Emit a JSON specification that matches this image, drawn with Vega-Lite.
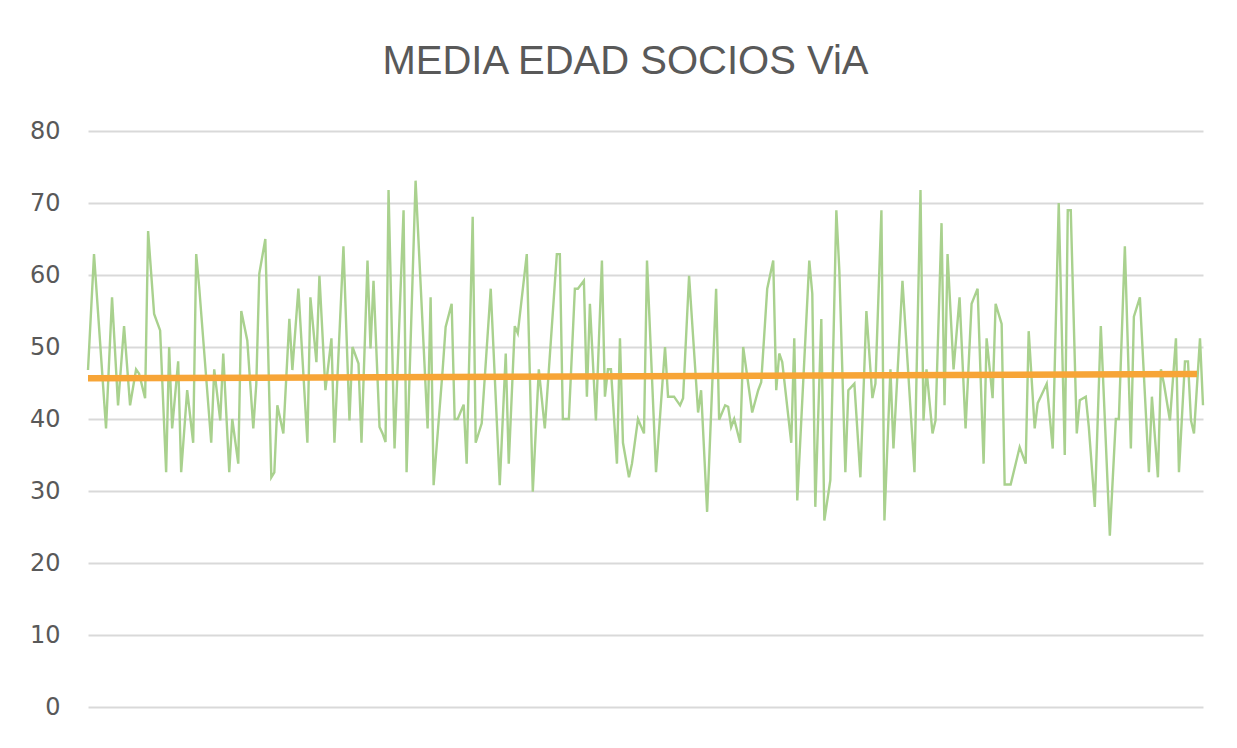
{
  "$schema": "https://vega.github.io/schema/vega-lite/v6.json",
  "width": 1115,
  "height": 576,
  "autosize": "none",
  "padding": {"left": 88, "top": 131, "right": 34, "bottom": 41},
  "background": "white",
  "title": {"text": "MEDIA EDAD SOCIOS ViA", "font": "Liberation Sans", "fontSize": 40, "fontWeight": "normal", "color": "#595959", "anchor": "middle", "dx": -20, "offset": 37},
  "config": {"view": {"stroke": null}},
  "datasets": {
    "socios": [
      {"n":1,"edad":46.8},{"n":3,"edad":62.9},{"n":7,"edad":38.7},{"n":9,"edad":56.9},{"n":11,"edad":41.9},{"n":13,"edad":52.9},{"n":15,"edad":41.9},{"n":17,"edad":46.9},{"n":18,"edad":46.3},{"n":20,"edad":42.9},
      {"n":21,"edad":66.1},{"n":23,"edad":54.6},{"n":25,"edad":52.3},{"n":27,"edad":32.6},{"n":28,"edad":50},{"n":29,"edad":38.7},{"n":31,"edad":48},{"n":32,"edad":32.6},{"n":34,"edad":44},{"n":36,"edad":36.7},
      {"n":37,"edad":62.9},{"n":38,"edad":58.3},{"n":42,"edad":36.7},{"n":43,"edad":46.9},{"n":45,"edad":39.8},{"n":46,"edad":49.1},{"n":48,"edad":32.6},{"n":49,"edad":40},{"n":51,"edad":33.8},{"n":52,"edad":55},
      {"n":54,"edad":50.9},{"n":56,"edad":38.7},{"n":57,"edad":44.9},{"n":58,"edad":60.2},{"n":60,"edad":65},{"n":62,"edad":31.9},{"n":63,"edad":32.6},{"n":64,"edad":41.9},{"n":66,"edad":38},{"n":68,"edad":53.9},
      {"n":69,"edad":46.8},{"n":71,"edad":58.1},{"n":74,"edad":36.7},{"n":75,"edad":56.9},{"n":77,"edad":47.9},{"n":78,"edad":59.9},{"n":80,"edad":44},{"n":82,"edad":51.2},{"n":83,"edad":36.7},{"n":86,"edad":64},
      {"n":88,"edad":39.8},{"n":89,"edad":50},{"n":91,"edad":47.7},{"n":92,"edad":36.7},{"n":94,"edad":62},{"n":95,"edad":49.8},{"n":96,"edad":59.2},{"n":98,"edad":38.9},{"n":99,"edad":38},{"n":100,"edad":36.8},
      {"n":101,"edad":71.8},{"n":103,"edad":35.9},{"n":106,"edad":69},{"n":107,"edad":32.6},{"n":110,"edad":73.1},{"n":114,"edad":38.7},{"n":115,"edad":56.9},{"n":116,"edad":30.8},{"n":119,"edad":46.8},{"n":120,"edad":52.8},
      {"n":122,"edad":56},{"n":123,"edad":40},{"n":124,"edad":40},{"n":126,"edad":42},{"n":127,"edad":33.8},{"n":129,"edad":68.1},{"n":130,"edad":36.7},{"n":132,"edad":39.4},{"n":135,"edad":58.1},{"n":138,"edad":30.8},
      {"n":140,"edad":49.1},{"n":141,"edad":33.8},{"n":143,"edad":52.9},{"n":144,"edad":51.9},{"n":147,"edad":62.9},{"n":149,"edad":29.9},{"n":151,"edad":46.9},{"n":153,"edad":38.7},{"n":157,"edad":62.9},{"n":158,"edad":62.9},
      {"n":159,"edad":40},{"n":161,"edad":40},{"n":163,"edad":58.1},{"n":164,"edad":58.1},{"n":166,"edad":59.2},{"n":167,"edad":43.1},{"n":168,"edad":56},{"n":170,"edad":39.8},{"n":172,"edad":62},{"n":173,"edad":43.1},
      {"n":174,"edad":46.9},{"n":175,"edad":46.9},{"n":177,"edad":33.8},{"n":178,"edad":51.2},{"n":179,"edad":36.7},{"n":181,"edad":31.9},{"n":182,"edad":33.8},{"n":184,"edad":40},{"n":186,"edad":38},{"n":187,"edad":62},
      {"n":190,"edad":32.6},{"n":193,"edad":50},{"n":194,"edad":43.1},{"n":196,"edad":43.1},{"n":198,"edad":41.9},{"n":199,"edad":42.9},{"n":201,"edad":59.9},{"n":204,"edad":40.9},{"n":205,"edad":44},{"n":207,"edad":27.1},
      {"n":210,"edad":58.1},{"n":211,"edad":39.9},{"n":213,"edad":41.9},{"n":214,"edad":41.7},{"n":215,"edad":38.9},{"n":216,"edad":40},{"n":218,"edad":36.7},{"n":219,"edad":50},{"n":222,"edad":40.9},{"n":224,"edad":44},
      {"n":225,"edad":45.1},{"n":227,"edad":58.1},{"n":229,"edad":62},{"n":230,"edad":44},{"n":231,"edad":49.1},{"n":232,"edad":47.9},{"n":235,"edad":36.7},{"n":236,"edad":51.2},{"n":237,"edad":28.7},{"n":241,"edad":62},
      {"n":242,"edad":57.4},{"n":243,"edad":27.8},{"n":245,"edad":53.9},{"n":246,"edad":25.9},{"n":248,"edad":31.5},{"n":250,"edad":69},{"n":251,"edad":60.6},{"n":253,"edad":32.6},{"n":254,"edad":44},{"n":256,"edad":44.9},
      {"n":258,"edad":31.9},{"n":260,"edad":55},{"n":262,"edad":42.9},{"n":263,"edad":44.9},{"n":265,"edad":69},{"n":266,"edad":25.9},{"n":268,"edad":46.9},{"n":269,"edad":35.9},{"n":272,"edad":59.2},{"n":276,"edad":32.6},
      {"n":278,"edad":71.8},{"n":279,"edad":39.8},{"n":280,"edad":46.9},{"n":282,"edad":38},{"n":283,"edad":39.8},{"n":285,"edad":67.2},{"n":286,"edad":41.9},{"n":287,"edad":62.9},{"n":289,"edad":46.9},{"n":291,"edad":56.9},
      {"n":293,"edad":38.7},{"n":295,"edad":56},{"n":297,"edad":58.1},{"n":299,"edad":33.8},{"n":300,"edad":51.2},{"n":302,"edad":42.9},{"n":303,"edad":56},{"n":305,"edad":53.2},{"n":306,"edad":30.9},{"n":308,"edad":30.9},
      {"n":311,"edad":36.1},{"n":313,"edad":33.8},{"n":314,"edad":52.2},{"n":316,"edad":38.7},{"n":317,"edad":42.2},{"n":318,"edad":43.1},{"n":320,"edad":44.9},{"n":322,"edad":35.9},{"n":324,"edad":70},{"n":326,"edad":35},
      {"n":327,"edad":69},{"n":328,"edad":69},{"n":330,"edad":38},{"n":331,"edad":42.6},{"n":333,"edad":43.1},{"n":334,"edad":38.9},{"n":336,"edad":27.8},{"n":338,"edad":52.9},{"n":341,"edad":23.8},{"n":343,"edad":40},
      {"n":344,"edad":40},{"n":346,"edad":64},{"n":348,"edad":35.9},{"n":349,"edad":54.2},{"n":351,"edad":56.9},{"n":354,"edad":32.6},{"n":355,"edad":43.1},{"n":357,"edad":31.9},{"n":358,"edad":46.9},{"n":359,"edad":44.9},
      {"n":361,"edad":39.8},{"n":363,"edad":51.2},{"n":364,"edad":32.6},{"n":366,"edad":48},{"n":367,"edad":48},{"n":368,"edad":39.8},{"n":369,"edad":38},{"n":371,"edad":51.2},{"n":372,"edad":41.9}
    ],
    "tendencia": [
      {"n":1,"tendencia":45.65},{"n":370,"tendencia":46.25}
    ]
  },
  "layer": [
    {
      "data": {"name": "socios"},
      "mark": {"type": "line", "color": "#A9D18E", "strokeWidth": 2.4},
      "encoding": {
        "x": {"field": "n", "type": "quantitative", "scale": {"domain": [1, 372], "nice": false, "zero": false}, "axis": null},
        "y": {"field": "edad", "type": "quantitative", "scale": {"domain": [0, 80], "nice": false},
              "axis": {"values": [0,10,20,30,40,50,60,70,80], "title": null, "domain": false, "ticks": false, "labelPadding": 28,
                       "labelFont": "DejaVu Sans", "labelFontSize": 24, "labelColor": "#595959", "gridColor": "#D9D9D9", "gridWidth": 2}}
      }
    },
    {
      "data": {"name": "tendencia"},
      "mark": {"type": "line", "color": "#F7A537", "strokeWidth": 6.5},
      "encoding": {
        "x": {"field": "n", "type": "quantitative", "axis": null},
        "y": {"field": "tendencia", "type": "quantitative", "title": null}
      }
    }
  ]
}
